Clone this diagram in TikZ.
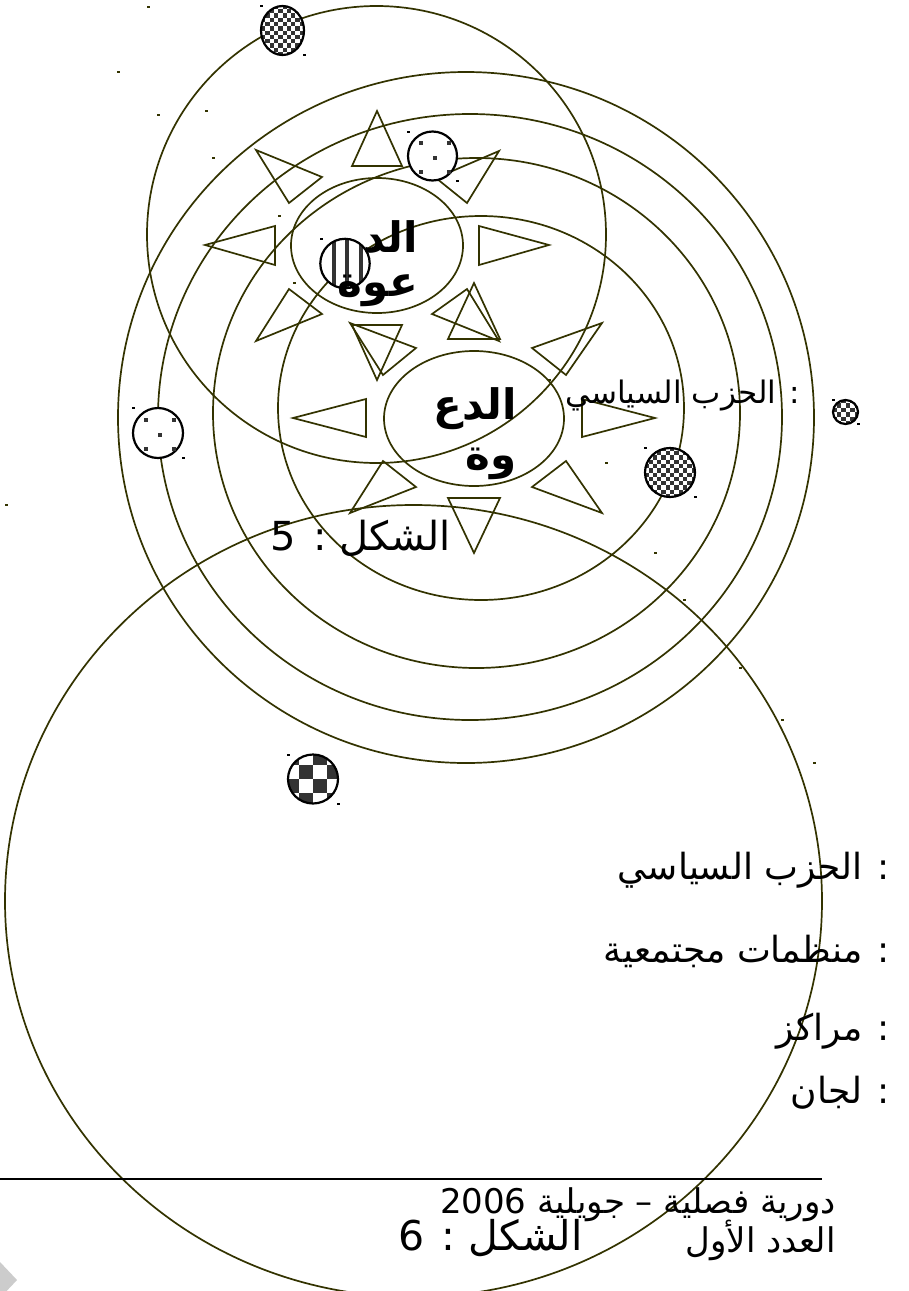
\documentclass[tikz,border=0pt]{standalone}
\usepackage{fontspec}
\setmainfont{DejaVu Sans}
\newfontfamily\arabicfont[Script=Arabic]{DejaVu Sans}
\TeXXeTstate=1
\definecolor{ol}{RGB}{51,51,0}
\definecolor{dk}{RGB}{51,51,51}
\tikzset{
  ring/.style={draw=ol, line width=1.7pt},
  tri/.style={draw=ol, line width=1.7pt, line join=miter},
  pc/.style={draw=black, line width=2.2pt},
  ar/.style={font=\arabicfont\fontsize{#1}{#1}\selectfont, inner sep=0pt},
  arb/.style={font=\arabicfont\bfseries\fontsize{#1}{#1}\selectfont, inner sep=0pt}
}
\newcommand\hdot[2]{\fill[ol] ({#1-1.5},{#2-1}) rectangle ++(3,2);}
\newcommand\bdot[2]{\fill[black] ({#1-1.5},{#2-1}) rectangle ++(3,2);}
\newcommand\chkcirc[5]{%
  \fill[white] (#1,#2) ellipse [x radius=#3, y radius=#4];
  \begin{scope}
    \clip (#1,#2) ellipse [x radius=#3, y radius=#4];
    \foreach \i in {-8,...,7}{\foreach \j in {-8,...,7}{%
      \pgfmathtruncatemacro\kk{mod(\i+\j+40,2)}%
      \ifnum\kk=0 \fill[dk] ({#1+\i*#5},{#2+\j*#5}) rectangle ++(#5,#5);\fi}}
  \end{scope}
  \draw[pc] (#1,#2) ellipse [x radius=#3, y radius=#4];
  \bdot{#1-#3}{#2-#4}\bdot{#1+#3}{#2+#4}}
\newcommand\dicecirc[3]{%
  \fill[white] (#1,#2) circle (#3);
  \draw[pc] (#1,#2) circle (#3);
  \foreach \dx/\dy in {-12/-13,16/-13,2/2,-12/16,16/16}{%
    \fill[dk] ({#1+\dx-2},{#2+\dy-2}) rectangle ++(4,4);}
  \bdot{#1-#3}{#2-#3}\bdot{#1+#3}{#2+#3}}
\begin{document}
\begin{tikzpicture}[x=1pt,y=-1pt]
\useasboundingbox (0,0) rectangle (909,1291);
\fill[white] (0,0) rectangle (909,1291);

% big rings
\draw[ring] (376.5,234.5) ellipse [x radius=229.5, y radius=228.5];
\draw[ring] (466,417.5) ellipse [x radius=348, y radius=345.5];
\draw[ring] (470,417) ellipse [x radius=312, y radius=303];
\draw[ring] (476.5,413) ellipse [x radius=263.5, y radius=255];
\draw[ring] (481,408) ellipse [x radius=203, y radius=192];
\draw[ring] (413.5,901) ellipse [x radius=408.5, y radius=396];
\hdot{148}{7}\hdot{606}{463}
\hdot{118}{72}\hdot{814}{763}
\hdot{158}{115}\hdot{782}{720}
\hdot{213}{158}\hdot{740}{668}
\hdot{279}{216}\hdot{684}{600}
\hdot{6}{505}
\hdot{206}{111}\hdot{549}{380}
\hdot{294}{283}\hdot{655}{553}

% upper sun
\begin{scope}[shift={(377,245)}]
\draw[tri] (0,-134) -- (-25,-79) -- (25,-79) -- cycle;
\draw[tri] (0,135) -- (-25,80) -- (25,80) -- cycle;
\draw[tri] (-172,0) -- (-102,-19) -- (-102,20) -- cycle;
\draw[tri] (172,0) -- (102,-19) -- (102,20) -- cycle;
\draw[tri] (122,-94) -- (59,-67) -- (90,-42) -- cycle;
\draw[tri] (-121,-95) -- (-55,-68) -- (-88,-42) -- cycle;
\draw[tri] (-121,96) -- (-88,44) -- (-55,69) -- cycle;
\draw[tri] (122,96) -- (90,44) -- (55,69) -- cycle;
\draw[ring] (0,0.5) ellipse [x radius=86, y radius=67.5];
\end{scope}

% lower sun
\begin{scope}[shift={(474,418)}]
\draw[tri] (0,-135) -- (-26,-79) -- (26,-79) -- cycle;
\draw[tri] (0,135) -- (-26,80) -- (26,80) -- cycle;
\draw[tri] (-181,0) -- (-108,-19) -- (-108,19) -- cycle;
\draw[tri] (181,0) -- (108,-19) -- (108,19) -- cycle;
\draw[tri] (128,-95) -- (58,-70) -- (92,-43) -- cycle;
\draw[tri] (-124,-95) -- (-58,-70) -- (-91,-43) -- cycle;
\draw[tri] (-124,95) -- (-91,43) -- (-58,69) -- cycle;
\draw[tri] (128,95) -- (92,43) -- (58,69) -- cycle;
\draw[ring] (0,0.5) ellipse [x radius=90, y radius=67.5];
\end{scope}

% patterned circles
\chkcirc{282.5}{30.5}{21.5}{24.5}{4.3}
\dicecirc{432.5}{156}{24.5}
\dicecirc{158}{433}{25}
\chkcirc{670}{472.5}{25}{24.5}{4.3}
\chkcirc{845.5}{412}{12.5}{12}{4.5}
\chkcirc{313}{779}{25}{24.5}{14}
% striped circle
\fill[white] (345,263.5) circle (24.7);
\begin{scope}
\clip (345,263.5) circle (24.7);
\foreach \sx in {331.5,345,358.5}{\fill[dk] (\sx,230) rectangle ++(4,70);}
\end{scope}
\draw[pc] (345,263.5) circle (24.7);
\bdot{321}{239}

% texts
\node[arb=42, anchor=base east] (t1) at (418,252) {\beginR الد\endR};
\node[arb=42, anchor=base east] (t2) at (418,296) {\beginR عوة\endR};
\node[arb=42, anchor=base east] (t3) at (517,419) {\beginR الدع\endR};
\node[arb=42, anchor=base east] (t4) at (517,469) {\beginR وة\endR};
\node[ar=31, anchor=east] (lab) at (800,396) {\beginR : الحزب السياسي\endR};
\node[ar=40, anchor=east] (f5) at (451,538) {\beginR الشكل : 5\endR};
\node[ar=36, anchor=east] (l1) at (890,870) {\beginR : الحزب السياسي\endR};
\node[ar=36, anchor=east] (l2) at (890,951) {\beginR : منظمات مجتمعية\endR};
\node[ar=36, anchor=east] (l3) at (890,1031) {\beginR : مراكز\endR};
\node[ar=36, anchor=east] (l4) at (890,1093) {\beginR : لجان\endR};
\node[ar=41, anchor=east] (f6) at (583,1238) {\beginR الشكل : 6\endR};

\draw[black, line width=1.6pt] (0,1179) -- (822,1179);
\node[ar=34, anchor=east] (b1) at (836,1205) {\beginR دورية فصلية – جويلية \beginL 2006\endL\endR};
\node[ar=34, anchor=east] (b2) at (836,1240) {\beginR العدد الأول\endR};

\fill[black!20] (0,1262) -- (17,1280) -- (0,1298) -- cycle;
\end{tikzpicture}
\end{document}
